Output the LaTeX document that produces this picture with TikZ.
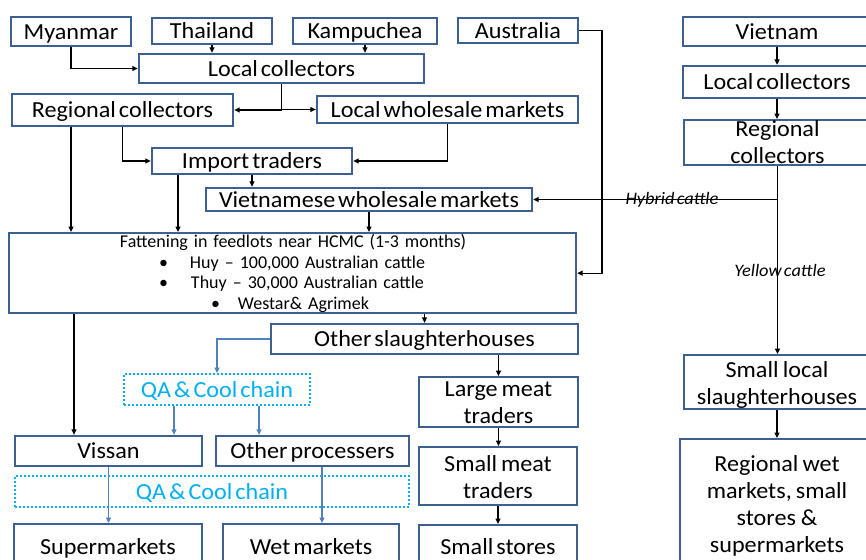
\documentclass[tikz,border=0pt]{standalone}
\usepackage{fontspec}
\setmainfont{Carlito}[FakeStretch=1.05,WordSpace=0.55]
\newfontfamily\fatfont{Carlito}
\usetikzlibrary{arrows.meta}
\definecolor{bcol}{RGB}{60,96,146}
\definecolor{qcol}{RGB}{0,176,240}
\definecolor{lcol}{RGB}{79,129,189}
\tikzset{
  bx/.style={draw=bcol, line width=2.3pt, inner sep=0pt, align=center,
    font=\fontsize{23}{27}\selectfont, text height=18.5pt, text depth=3pt},
  mbx/.style={bx, anchor=north, execute at begin node={\spaceskip=0pt\relax}},
  qa/.style={draw=qcol, line width=2pt, dash pattern=on 2pt off 2pt, inner sep=0pt,
    text=qcol, font=\fontsize{23}{27}\selectfont, text height=18.5pt, text depth=3pt},
  arr/.style={line width=1.2pt, -{Triangle[length=5.5pt,width=5pt]}},
  barr/.style={draw=lcol, line width=1.2pt, -{Triangle[length=5.5pt,width=5pt]}},
  lbl/.style={inner sep=0pt, anchor=base, font=\fontsize{17.5}{20}\selectfont\itshape}
}
\begin{document}
\begin{tikzpicture}[x=1pt,y=-1pt]
\useasboundingbox (0,0) rectangle (866,559);
\clip (0,0) rectangle (866,559);
\fill[white] (0,0) rectangle (866,559);
% left column boxes
\node[bx, minimum width=120, minimum height=29] (myan) at (71,31.5) {Myanmar};
\node[bx, minimum width=120, minimum height=26] (thai) at (212,31) {Thailand};
\node[bx, minimum width=144, minimum height=26] (kamp) at (365,31) {Kampuchea};
\node[bx, minimum width=120, minimum height=25] (aus) at (518,30.5) {Australia};
\node[bx, minimum width=285, minimum height=29] (lc) at (281.5,68.5) {Local collectors};
\node[bx, minimum width=221, minimum height=32] (rc) at (122.5,110) {Regional collectors};
\node[bx, minimum width=261, minimum height=27] (lwm) at (447.5,109.5) {Local wholesale markets};
\node[bx, minimum width=200, minimum height=26] (imp) at (252,161) {Import traders};
\node[bx, minimum width=326, minimum height=23] (vwm) at (369,199.5) {Vietnamese wholesale markets};
\node[bx, anchor=north, text width=567pt, align=left, text height=14.7pt, text depth=65.3pt,
  font=\fontsize{18}{20.5}\fatfont] (fat) at (292.5,232) {%
\hspace*{111pt}Fattening in feedlots near HCMC (1-3 months)\\
\hspace*{150pt}\makebox[31pt][l]{•}Huy – 100,000 Australian cattle\\
\hspace*{150pt}\makebox[32pt][l]{•}Thuy – 30,000 Australian cattle\\
\hspace*{202pt}\makebox[27pt][l]{•}Westar\& Agrimek};
\node[bx, minimum width=307, minimum height=30] (osh) at (424.5,339) {Other slaughterhouses};
\node[qa, minimum width=186, minimum height=31] (qa1) at (217,389.5) {QA \& Cool chain};
\node[bx, minimum width=187, minimum height=30] (vis) at (108.5,451) {Vissan};
\node[bx, minimum width=193, minimum height=30] (op) at (312.5,451) {Other processers};
\node[qa, minimum width=394, minimum height=31] (qa2) at (212,491.5) {QA \& Cool chain};
\node[bx, anchor=north, minimum width=188, text height=30pt, text depth=40pt] (sup) at (108,523) {Supermarkets};
\node[bx, anchor=north, minimum width=176, text height=30pt, text depth=40pt] (wm) at (311,523) {Wet markets};
\node[mbx, text width=159pt, text height=19.7pt, text depth=30.3pt] (lmt) at (498.5,376) {Large meat\\traders};
\node[mbx, text width=158pt, text height=24pt, text depth=34pt] (smt) at (498,446) {Small meat\\traders};
\node[bx, anchor=north, minimum width=158, text height=29pt, text depth=40pt] (sst) at (498,524) {Small stores};
% right column
\node[bx, minimum width=188, minimum height=29] (vn) at (777,31.5) {Vietnam};
\node[bx, minimum width=188, minimum height=32] (vlc) at (777,82) {Local collectors};
\node[mbx, text width=187pt, text height=16pt, text depth=29pt] (vrc) at (777.5,119) {Regional\\collectors};
\node[mbx, text width=186pt, text height=22pt, text depth=32pt] (sls) at (777,354) {Small local\\slaughterhouses};
\node[mbx, text width=194pt, text height=32pt, text depth=120pt] (rwm) at (777,438) {Regional wet\\markets, small\\stores \&\\supermarkets};
% helper x positions
\coordinate (c1) at (178,0);
\coordinate (c2) at (74,0);
\coordinate (c3) at (174,0);
\coordinate (c4) at (259,0);
\coordinate (c5) at (322,0);
\coordinate (ausR) at (602,0);
% black connectors
\draw[arr] (myan.south) |- (lc.west);
\draw[arr] (thai.south) -- (thai.south |- lc.north);
\draw[arr] (kamp.south) -- (kamp.south |- lc.north);
\draw[arr] (lc.south) |- (rc.east);
\draw[arr] (lc.south) |- (lwm.west);
\draw[arr] (myan.south |- rc.south) -- (myan.south |- fat.north);
\draw[arr] (rc.south) |- (imp.west);
\draw[arr] (lwm.south) |- (imp.east);
\draw[arr] (imp.south) -- (imp.south |- vwm.north);
\draw[arr] (imp.south -| c1) -- (fat.north -| c1);
\draw[arr] (vwm.south) -- (vwm.south |- fat.north);
\draw[arr] (aus.east) -- (aus.east -| ausR) -- (ausR |- fat.east) -- (fat.east);
\draw[arr] (fat.south -| c2) -- (vis.north -| c2);
\draw[arr] (osh.north |- fat.south) -- (osh.north);
\draw[arr] (lmt.north |- osh.south) -- (lmt.north);
\draw[arr] (lmt.south) -- (lmt.south |- smt.north);
\draw[arr] (smt.south) -- (smt.south |- sst.north);
\draw[arr] (vn.south) -- (vn.south |- vlc.north);
\draw[arr] (vlc.south) -- (vlc.south |- vrc.north);
\draw[arr] (vrc.south) -- (vrc.south |- sls.north);
\draw[arr] (vrc.south |- vwm.east) -- (vwm.east);
\draw[arr] (sls.south) -- (sls.south |- rwm.north);
\node[lbl] (hyb) at (672,204) {Hybrid cattle};
\node[lbl] (yel) at (780,276) {Yellow cattle};
% blue connectors
\draw[barr] (osh.west) -| (qa1.north);
\draw[barr] (qa1.south -| c3) -- (vis.north -| c3);
\draw[barr] (qa1.south -| c4) -- (op.north -| c4);
\draw[barr] (vis.south) -- (vis.south |- sup.north);
\draw[barr] (op.south -| c5) -- (wm.north -| c5);
\end{tikzpicture}
\end{document}
